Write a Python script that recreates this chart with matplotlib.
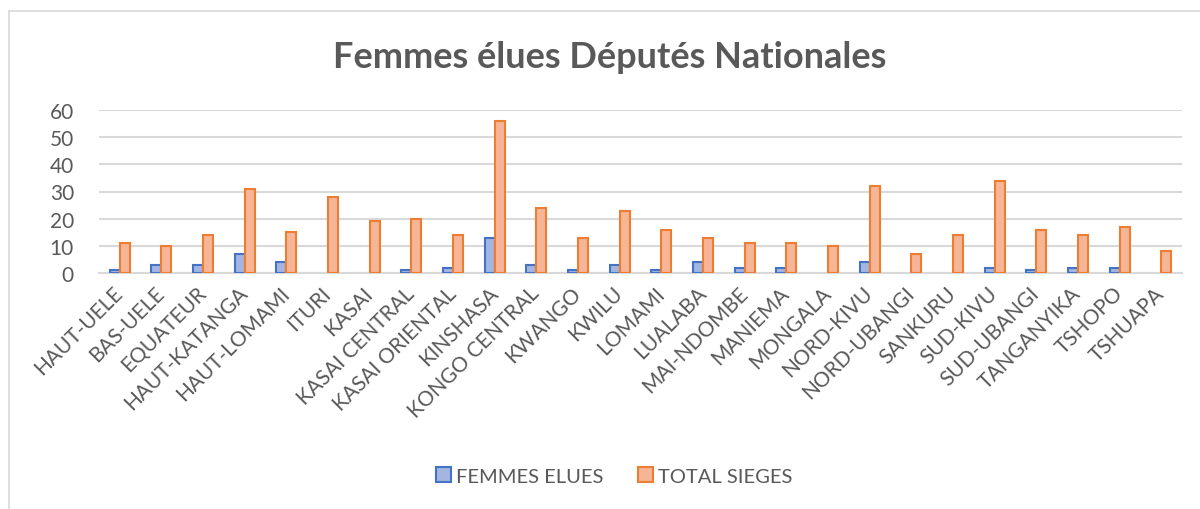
import numpy as np
import matplotlib
matplotlib.use('Agg')
import matplotlib.pyplot as plt
from matplotlib.patches import Patch
from matplotlib.lines import Line2D

# data
provinces = ['HAUT-UELE', 'BAS-UELE', 'EQUATEUR', 'HAUT-KATANGA', 'HAUT-LOMAMI',
             'ITURI', 'KASAI', 'KASAI CENTRAL', 'KASAI ORIENTAL', 'KINSHASA',
             'KONGO CENTRAL', 'KWANGO', 'KWILU', 'LOMAMI', 'LUALABA',
             'MAI-NDOMBE', 'MANIEMA', 'MONGALA', 'NORD-KIVU', 'NORD-UBANGI',
             'SANKURU', 'SUD-KIVU', 'SUD-UBANGI', 'TANGANYIKA', 'TSHOPO', 'TSHUAPA']
femmes_elues = [1, 3, 3, 7, 4, 0, 0, 1, 2, 13, 3, 1, 3, 1, 4, 2, 2, 0, 4, 0, 0, 2, 1, 2, 2, 0]
total_sieges = [11, 10, 14, 31, 15, 28, 19, 20, 14, 56, 24, 13, 23, 16, 13, 11, 11, 10, 32, 7,
                14, 34, 16, 14, 17, 8]

GREY = '#595959'
BLUE_FILL, BLUE_EDGE = '#A3B5E0', '#4472C4'
ORANGE_FILL, ORANGE_EDGE = '#F6B596', '#ED7D31'
plt.rcParams['font.family'] = ['Lato', 'DejaVu Sans']

fig = plt.figure(figsize=(12, 5.1), dpi=100)
ax = fig.add_axes([99 / 1200, 1 - 274 / 510, (1182 - 99) / 1200, (274 - 111) / 510])

x = np.arange(len(provinces))
w = 0.24
# zero values show no bar at all in the original
blue_edges = [BLUE_EDGE if v > 0 else 'none' for v in femmes_elues]
ax.bar(x - w / 2, femmes_elues, w, color=BLUE_FILL, edgecolor=blue_edges, linewidth=1.5, zorder=3)
ax.bar(x + w / 2, total_sieges, w, color=ORANGE_FILL, edgecolor=ORANGE_EDGE, linewidth=1.5, zorder=3)

ax.set_xlim(-0.5, len(provinces) - 0.5)
ax.set_ylim(0, 60)
ax.set_yticks(range(0, 61, 10))
ax.yaxis.grid(True, color='#D9D9D9', linewidth=1.5, zorder=0)
for s in ['top', 'right', 'left']:
    ax.spines[s].set_visible(False)
ax.spines['bottom'].set_color('#D9D9D9')
ax.spines['bottom'].set_linewidth(1.5)
ax.tick_params(axis='both', length=0, colors=GREY, labelsize=15)
ax.tick_params(axis='y', pad=18)
ax.set_xticks(x)
ax.set_xticklabels(provinces, rotation=45, ha='right', va='center',
                   rotation_mode='anchor', fontsize=15, color=GREY)
ax.tick_params(axis='x', pad=12)

fig.text(0.508, 1 - 57 / 510, 'Femmes élues Députés Nationales', ha='center', va='center',
         fontsize=26, fontweight='bold', color=GREY)

handles = [Patch(facecolor=BLUE_FILL, edgecolor=BLUE_EDGE, linewidth=1.5, label='FEMMES ELUES'),
           Patch(facecolor=ORANGE_FILL, edgecolor=ORANGE_EDGE, linewidth=1.5, label='TOTAL SIEGES')]
leg = fig.legend(handles=handles, loc='center', bbox_to_anchor=(0.512, 1 - 477 / 510), ncol=2,
                 frameon=False, fontsize=14.5, handlelength=0.75, handleheight=0.75,
                 handletextpad=0.25, columnspacing=1.7)
for t in leg.get_texts():
    t.set_color(GREY)

# chart border (left and top edges visible)
fig.add_artist(Line2D([9 / 1200, 9 / 1200], [0, 1 - 12 / 510], color='#D9D9D9', linewidth=1.2))
fig.add_artist(Line2D([9 / 1200, 1], [1 - 12 / 510, 1 - 12 / 510], color='#D9D9D9', linewidth=1.2))

fig.savefig('out.png', dpi=100)
